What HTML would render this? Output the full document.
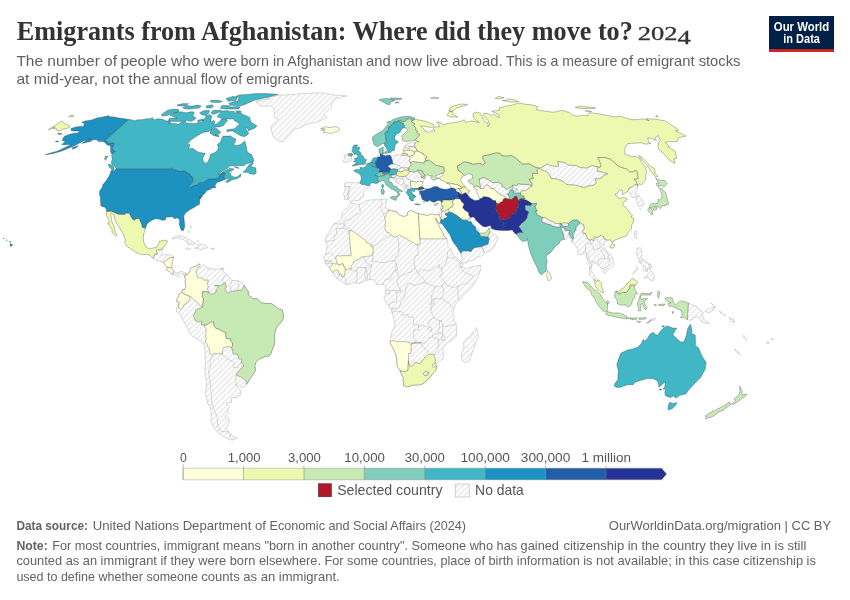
<!DOCTYPE html>
<html><head><meta charset="utf-8"><title>Emigrants from Afghanistan: Where did they move to?</title>
<style>
html,body{margin:0;padding:0;background:#fff;}
body{width:850px;height:600px;overflow:hidden;position:relative;font-family:"Liberation Sans",sans-serif;}
svg{position:absolute;left:0;top:0;will-change:transform;}
text{font-family:"Liberation Sans",sans-serif;}
.ttl{font-family:"Liberation Serif",serif;fill:#333;}
.sub{font-size:14.5px;fill:#606060;}
.ft{font-size:13px;fill:#636363;}
.lb{font-size:13px;fill:#555;text-anchor:middle;}
.lg{font-size:14.2px;fill:#555;}
</style></head><body>
<svg width="850" height="600" viewBox="0 0 850 600">
<defs><pattern id="nd" patternUnits="userSpaceOnUse" width="4" height="4" patternTransform="rotate(-45 2 2)"><path d="M-1,2 l6,0" stroke="#ccc" stroke-width="0.7"/></pattern></defs>
<rect width="850" height="600" fill="#fff"/>
<!-- header -->
<text class="ttl" x="16.8" y="40.1" font-size="28.3" font-weight="bold" textLength="616" lengthAdjust="spacingAndGlyphs">Emigrants from Afghanistan: Where did they move to?</text>
<text class="ttl" x="637.8" y="40.1" font-size="18.5" stroke="#333" stroke-width="0.3" textLength="53" lengthAdjust="spacingAndGlyphs">202<tspan dy="4.2">4</tspan></text>
<text class="sub" x="16.4" y="66.4" textLength="100.6" lengthAdjust="spacingAndGlyphs">The number of</text>
<text class="sub" x="120.4" y="66.4" textLength="116.7" lengthAdjust="spacingAndGlyphs">people who were</text>
<text class="sub" x="240.5" y="66.4" textLength="122.1" lengthAdjust="spacingAndGlyphs">born in Afghanistan</text>
<text class="sub" x="366.0" y="66.4" textLength="136.5" lengthAdjust="spacingAndGlyphs">and now live abroad.</text>
<text class="sub" x="505.9" y="66.4" textLength="111.4" lengthAdjust="spacingAndGlyphs">This is a measure</text>
<text class="sub" x="620.7" y="66.4" textLength="119.8" lengthAdjust="spacingAndGlyphs">of emigrant stocks</text>
<text class="sub" x="16.4" y="83.8" textLength="133.7" lengthAdjust="spacingAndGlyphs">at mid-year, not the</text>
<text class="sub" x="153.5" y="83.8" textLength="159.9" lengthAdjust="spacingAndGlyphs">annual flow of emigrants.</text>
<!-- logo -->
<rect x="769" y="16" width="65" height="36" fill="#002147"/>
<rect x="769" y="49.1" width="65" height="2.9" fill="#ce261e"/>
<text x="801.5" y="31.3" font-size="12.3" font-weight="bold" fill="#fff" text-anchor="middle" textLength="55.3" lengthAdjust="spacingAndGlyphs">Our World</text>
<text x="801.6" y="42.6" font-size="12.3" font-weight="bold" fill="#fff" text-anchor="middle" textLength="36.6" lengthAdjust="spacingAndGlyphs">in Data</text>
<g fill="url(#nd)" stroke="#aaa" stroke-width="0.45" stroke-linejoin="round"><path d="M350.7,202.8L359.2,204.6L365.7,200.9L370.0,199.9L380.7,199.6L385.0,198.8L387.2,199.6L386.3,203.5L385.3,207.4L387.8,209.5L390.9,210.6L397.1,211.9L398.1,214.2L403.3,216.6L407.6,215.3L407.7,212.1L410.6,210.3L414.5,212.1L418.5,213.7L427.5,215.5L431.8,214.0L434.7,214.8L438.9,214.5L440.9,219.2L440.1,223.4L438.3,222.6L435.7,218.1L435.3,218.9L438.1,223.6L439.5,227.0L443.3,233.5L443.9,236.2L446.8,238.8L447.8,241.9L447.9,246.6L451.0,249.2L453.6,255.7L457.6,258.3L462.1,263.0L462.7,266.2L465.6,269.0L471.2,267.0L480.5,265.1L480.9,268.8L478.6,275.3L476.2,280.5L473.8,284.4L469.5,289.9L467.9,291.0L461.5,297.5L459.2,300.6L456.1,303.2L454.9,306.6L453.8,308.4L452.8,313.1L454.3,317.1L453.7,321.0L456.2,323.6L456.4,328.8L456.7,334.0L455.9,336.6L453.5,339.2L447.6,342.6L445.2,345.5L442.6,347.9L443.6,353.6L443.3,358.6L437.5,362.2L436.5,363.8L437.0,366.4L435.7,370.6L432.9,373.4L429.6,377.9L425.3,381.8L422.5,383.9L419.6,384.9L412.6,385.2L407.0,387.0L403.6,385.7L403.6,381.5L402.9,379.7L403.8,378.4L401.8,375.3L400.2,370.8L397.4,366.6L396.2,355.9L393.8,349.7L390.3,343.2L390.4,337.9L392.1,331.4L395.1,324.9L393.8,319.1L391.8,312.1L391.1,309.2L389.1,306.4L386.1,302.7L383.8,298.3L385.4,294.9L385.6,290.4L386.1,288.1L385.4,286.0L383.1,284.2L379.6,284.7L377.3,285.0L375.0,281.6L373.6,279.7L371.3,279.5L366.3,280.3L361.2,282.6L358.9,283.7L356.1,282.9L354.3,282.6L346.2,284.7L342.1,281.8L338.7,279.7L337.1,278.2L334.8,276.9L333.2,274.0L332.0,271.4L329.6,268.0L328.0,266.2L325.3,263.8L325.1,261.2L323.5,257.8L325.9,254.4L326.5,249.2L327.2,245.3L326.2,242.7L325.0,241.4L325.6,238.2L327.5,234.3L330.1,230.9L331.3,227.5L334.1,223.9L334.8,223.4L337.9,222.3L341.1,219.5L342.1,216.6L341.9,214.0L343.1,211.4L344.9,209.3L346.9,208.5L348.7,207.4L350.0,204.3Z"/><path d="M476.4,327.5L478.7,336.6L476.1,341.9L473.2,349.7L469.7,360.1L466.6,362.2L464.8,362.7L462.2,360.9L461.1,354.9L463.8,348.4L463.6,341.9L467.2,337.9L470.7,336.1L473.3,331.4Z"/><path d="M423.3,373.4L425.7,371.1L428.5,372.1L428.6,374.2L425.8,376.0L424.1,375.3Z"/><path d="M480.6,188.5L479.2,178.9L484.0,177.6L490.1,180.7L492.7,182.8L498.6,182.3L501.7,184.1L502.3,186.7L503.4,186.9L507.4,189.8L509.0,188.2L511.7,186.7L513.0,186.1L511.8,188.2L514.9,188.2L518.2,189.8L515.9,191.3L513.5,191.1L512.8,189.5L510.2,190.0L510.0,191.6L509.3,192.9L507.3,193.9L509.4,197.0L509.5,199.1L506.6,198.7L504.0,196.2L500.6,194.7L496.3,191.8L494.3,189.0L490.3,188.2L489.5,186.1L486.2,184.9L484.9,186.1L483.8,188.5Z"/><path d="M512.3,185.1L517.6,185.4L518.0,183.6L521.4,184.3L528.8,184.6L531.9,186.1L529.1,188.2L525.6,190.5L522.1,190.8L520.4,192.1L520.5,193.1L516.4,193.1L513.4,192.9L513.5,191.1L515.9,191.3L518.2,189.8L514.9,188.2L511.8,188.2L513.0,186.1Z"/><path d="M541.4,221.0L542.6,217.4L545.4,217.6L548.7,220.0L552.4,221.5L554.9,223.1L557.7,223.5L559.7,223.4L560.5,227.3L558.0,227.3L553.4,226.5L550.8,224.7L549.2,224.7L543.7,222.6Z"/><path d="M561.8,224.9L563.3,222.6L567.2,223.1L568.4,223.6L568.9,226.1L564.1,226.5Z"/><path d="M564.4,239.5L563.0,233.0L561.0,228.8L561.6,227.3L564.5,228.3L564.8,230.2L570.5,230.7L568.7,233.5L570.0,236.2L572.4,238.8L572.7,240.6L572.2,242.2L570.5,238.0L567.4,236.9L566.6,239.0Z"/><path d="M634.2,236.2L634.8,230.7L636.9,230.9L636.8,234.9L636.0,238.8Z"/><path d="M540.1,168.2L542.8,166.7L546.5,164.2L553.6,166.2L558.6,166.2L557.7,161.2L565.7,162.9L568.0,165.2L576.1,165.4L580.3,167.5L586.6,168.0L592.1,165.4L597.3,166.7L597.5,169.2L597.7,171.3L602.2,172.0L607.8,173.8L606.8,174.6L603.8,175.1L602.3,177.4L599.0,178.9L594.9,178.9L596.3,182.3L594.0,185.1L588.1,185.9L584.7,187.7L575.1,185.1L566.5,184.6L563.7,181.5L561.4,180.7L556.7,178.9L551.3,178.4L549.0,174.3L549.2,173.8L546.0,171.3L541.2,169.7Z"/><path d="M627.6,191.8L629.1,187.9L632.6,186.7L634.9,184.1L637.5,185.6L637.8,185.9L637.6,189.2L636.1,191.8L635.3,193.6L638.2,195.5L635.5,197.5L632.5,197.5L631.0,196.2L630.6,193.6Z"/><path d="M635.5,197.5L638.2,195.5L642.3,199.6L644.1,203.5L643.0,205.4L639.2,206.7L637.4,203.5L636.5,200.2ZM639.5,209.0L640.9,208.8L640.6,209.5Z"/><path d="M343.7,162.2L346.7,162.2L351.1,160.7L351.6,157.9L351.7,155.9L349.4,155.7L348.0,155.0L349.5,153.5L347.5,153.2L347.0,155.4L344.1,155.7L344.4,157.7L345.9,158.4L344.7,159.7L343.0,160.9Z"/><path d="M359.7,183.0L356.2,182.8L351.4,182.5L346.8,182.3L344.1,183.8L344.8,186.9L346.3,186.4L349.6,186.8L350.4,187.7L348.9,189.2L348.6,192.6L347.5,192.9L348.5,196.5L347.6,199.1L349.7,200.2L350.5,201.7L351.4,202.2L354.0,200.4L358.8,200.4L362.0,198.1L363.9,195.2L362.9,193.1L365.4,190.0L368.1,188.2L370.4,186.7L370.0,185.6L367.1,185.4L365.0,184.6L362.2,184.6Z"/><path d="M344.8,186.9L345.1,190.5L343.2,194.9L344.7,196.0L344.6,198.3L344.1,199.6L347.6,199.1L348.5,196.5L347.5,192.9L348.6,192.6L348.9,189.2L350.4,187.7L349.6,186.8L346.3,186.4Z"/><path d="M409.3,146.6L407.3,144.7L407.1,143.5L410.6,142.5L415.3,142.8L414.7,144.2L415.1,147.6L411.3,146.4ZM404.7,145.7L406.4,144.9L406.6,145.9L404.8,146.6Z"/><path d="M391.1,156.4L395.4,155.0L398.2,154.2L399.5,155.2L401.4,155.1L407.6,155.2L409.1,156.4L410.4,159.4L409.1,160.4L410.2,162.4L411.3,164.9L408.9,167.5L409.2,168.7L405.7,167.7L403.3,168.2L401.2,167.5L398.8,165.4L397.2,165.2L395.8,164.7L393.3,163.9L392.6,162.4L392.2,160.2L391.5,158.7Z"/><path d="M387.7,165.4L389.2,165.2L391.9,163.8L393.3,163.9L395.8,164.7L397.2,165.2L398.8,165.4L401.2,167.5L399.8,169.0L397.6,169.5L393.7,168.7L391.3,169.2L388.6,167.0Z"/><path d="M391.7,177.4L395.0,177.6L395.5,175.9L397.3,175.1L399.5,176.6L402.1,176.6L405.0,176.1L405.2,176.1L408.0,179.4L410.1,179.7L410.6,181.0L410.5,183.6L410.5,185.9L412.0,188.5L411.8,188.5L407.9,189.5L407.4,191.1L406.1,192.6L404.7,191.1L404.6,187.9L404.1,186.9L402.3,185.6L400.1,184.1L396.9,182.8L395.1,181.0L394.3,178.9L393.0,178.2L392.3,179.4L391.6,178.7Z"/><path d="M410.0,171.5L410.1,171.3L414.1,172.0L417.3,170.6L418.3,171.8L421.0,174.8L421.6,177.8L424.8,178.2L423.0,182.1L419.6,181.2L416.6,182.3L410.6,181.0L410.1,179.7L408.0,179.4L405.2,176.1L406.6,175.9Z"/><path d="M440.4,209.8L441.6,205.8L443.0,205.9L443.1,207.4L441.8,209.3Z"/><path d="M438.9,214.5L440.4,209.8L441.8,209.3L442.0,210.8L441.5,211.6L441.7,214.0L441.6,215.3L440.9,219.2Z"/><path d="M440.9,219.2L441.6,215.3L441.7,214.0L441.5,211.6L442.0,210.8L444.3,211.9L448.4,209.0L449.6,212.1L445.0,214.0L447.5,216.6L446.5,217.9L444.7,218.1L443.6,220.0L441.0,219.6Z"/><path d="M466.7,220.2L469.0,217.6L469.5,217.9L471.1,221.8L469.3,221.8Z"/><path d="M461.0,253.4L461.6,252.6L463.1,250.8L466.8,251.0L469.7,251.0L470.5,251.9L473.0,248.7L474.7,247.6L481.5,246.6L484.4,252.7L482.5,255.5L476.5,257.6L474.8,259.6L468.7,261.2L466.5,262.8L463.1,263.3L462.3,261.5L461.4,257.6Z"/><path d="M484.4,252.7L481.5,246.6L488.0,244.0L489.2,238.8L487.9,236.9L488.9,233.5L489.3,233.3L490.0,231.2L490.6,232.2L492.8,234.1L495.3,234.6L498.3,237.5L495.9,242.9L494.6,246.6L491.9,249.2L488.7,251.8L486.6,251.8ZM489.0,228.2L489.6,227.3L490.0,229.1Z"/><path d="M477.5,231.5L477.3,229.4L478.0,228.1L479.0,228.8L479.3,231.2L478.4,232.0Z"/><path d="M455.6,189.0L458.5,188.5L459.8,189.8L461.4,192.9L462.8,194.4L461.8,194.7L460.4,193.1L458.8,192.6L456.3,191.6Z"/><path d="M255.7,101.8L261.0,106.1L271.7,106.1L273.5,108.1L274.6,114.4L273.8,117.6L278.5,119.7L271.8,125.3L270.8,127.6L271.7,131.7L273.2,136.8L276.0,139.2L280.7,141.6L283.3,141.8L286.4,138.0L290.2,134.5L293.4,129.8L299.2,128.0L307.2,124.2L316.2,122.4L323.6,119.3L327.3,117.6L323.9,114.4L328.1,110.2L331.1,107.1L332.1,103.2L334.8,98.8L346.7,95.9L341.2,95.5L333.1,94.8L325.5,93.2L318.9,92.7L309.2,93.2L299.2,93.9L287.6,94.7L280.3,95.1L272.2,96.4L266.4,98.1L270.1,98.8L257.9,101.1Z"/><path d="M152.9,258.3L153.6,256.5L154.5,254.2L157.3,254.2L156.5,251.3L156.7,249.7L160.8,249.7L161.1,249.2L163.0,247.9L162.8,251.8L160.9,254.7L162.2,255.2L163.6,254.7L167.5,254.7L170.9,254.9L173.6,257.0L171.7,257.6L169.4,258.1L167.0,259.6L165.2,261.5L163.8,262.3L162.7,261.7L158.8,261.2L155.5,259.9Z"/><path d="M172.8,274.8L173.1,272.7L173.9,271.1L174.7,272.7L177.0,273.2L180.1,271.6L182.6,271.4L185.7,273.5L184.4,277.4L183.6,274.5L180.9,273.0L178.8,274.5L179.6,276.6L177.3,276.9L175.1,274.8Z"/><path d="M171.9,239.0L174.2,236.9L177.8,235.9L182.2,236.2L185.4,237.7L188.6,239.3L191.8,240.9L195.5,243.5L192.5,244.2L187.5,244.5L188.9,242.4L186.1,241.4L182.9,239.5L179.0,238.2L176.9,237.5L175.1,238.8Z"/><path d="M194.6,248.2L197.7,248.7L201.0,250.0L204.5,248.4L208.2,247.6L205.9,245.8L202.7,244.2L198.6,244.2L197.2,244.8L198.6,246.9Z"/><path d="M185.7,248.4L188.7,247.9L190.4,249.2L187.4,249.7Z"/><path d="M210.9,248.2L214.5,248.4L213.5,249.5L210.8,249.2Z"/><path d="M188.2,230.4L189.2,230.9L188.7,232.8L187.7,232.2ZM189.8,226.0L191.4,227.0L190.7,228.3ZM196.9,241.4L198.6,240.6L198.2,241.6Z"/><path d="M221.5,268.3L223.9,268.0L223.5,269.8L221.7,269.8Z"/><path d="M185.7,273.5L187.0,275.3L189.9,271.6L190.3,268.5L192.0,267.5L196.2,266.2L199.4,263.8L200.2,265.4L198.7,267.5L199.3,268.3L202.6,266.2L203.7,264.3L206.5,267.0L207.5,268.8L212.1,268.5L215.5,269.6L221.3,268.3L223.5,271.4L225.7,274.0L227.9,275.3L230.1,278.4L232.3,280.5L236.9,280.5L239.2,281.0L242.6,283.1L244.4,285.2L246.0,288.4L248.3,291.5L248.2,294.9L251.7,297.5L252.9,298.8L257.5,298.8L260.9,302.7L266.7,303.5L271.3,303.5L274.8,305.8L278.3,308.7L282.2,309.8L283.5,315.0L283.1,319.7L279.8,323.6L277.6,326.2L275.4,330.1L274.5,335.3L274.8,341.9L273.5,347.1L272.3,349.7L271.0,353.6L268.9,356.2L265.5,356.2L262.3,357.8L259.0,359.1L255.9,362.2L254.9,365.3L255.5,370.6L252.8,374.5L251.1,377.6L248.9,380.5L246.9,384.3L244.9,386.7L241.3,387.3L236.9,384.9L236.0,384.7L236.1,386.2L239.4,388.8L241.1,391.4L240.2,395.3L237.4,397.4L231.1,397.9L231.7,402.6L226.1,403.1L229.3,407.0L228.0,409.6L228.2,413.4L224.9,416.0L229.0,419.1L230.1,421.1L228.0,424.9L225.9,427.4L228.7,431.9L229.6,432.9L232.5,436.2L237.7,437.9L235.7,439.1L232.3,440.1L229.1,439.4L224.0,436.7L218.5,433.2L214.5,428.7L210.9,422.4L211.3,418.0L211.2,412.1L210.0,405.7L207.9,404.4L207.0,399.2L205.3,393.3L206.3,388.8L206.7,382.3L205.3,374.5L204.8,369.3L205.5,362.7L205.1,357.5L205.1,351.0L203.8,343.9L200.9,341.3L196.0,338.5L191.9,335.8L189.1,332.2L186.9,327.5L184.1,322.3L181.5,317.1L179.5,313.1L176.7,311.8L176.3,308.2L178.5,305.1L179.4,302.2L176.8,301.9L177.0,298.8L178.8,296.2L179.1,294.1L181.9,292.5L182.6,289.7L184.9,289.4L185.9,286.0L185.1,281.8L185.5,278.7L184.4,277.4Z"/><path d="M572.2,242.2L572.7,240.6L572.4,238.8L573.3,238.8L573.2,233.5L575.7,229.9L576.2,226.8L579.6,223.9L579.9,222.3L581.8,223.9L583.5,224.4L584.4,228.6L582.5,231.5L583.1,233.5L585.6,233.5L586.4,236.2L587.7,238.5L589.8,240.1L591.7,239.3L593.5,240.9L593.9,237.7L594.5,236.9L597.7,237.5L600.5,235.4L603.9,236.7L604.0,238.8L607.4,240.1L605.0,241.9L603.5,244.0L603.3,246.6L605.5,249.2L607.0,251.8L610.3,254.2L612.3,257.0L613.6,262.3L613.7,265.9L609.4,269.0L608.3,269.3L605.1,273.2L604.2,273.7L603.0,269.0L600.9,268.5L599.2,265.6L597.5,264.3L594.4,263.3L594.2,261.2L592.2,261.2L592.1,265.4L591.0,268.8L591.3,271.9L593.2,272.7L594.6,277.1L596.5,278.2L598.4,280.0L597.8,281.0L596.2,281.3L593.8,279.2L591.1,276.6L589.4,275.3L589.2,272.7L589.8,270.1L589.3,264.9L587.4,259.6L585.9,254.4L584.8,252.3L581.0,254.9L578.2,254.4L577.8,249.2L575.4,245.3Z"/><path d="M626.0,284.4L628.2,283.1L629.0,284.7L627.5,285.7Z"/><path d="M650.2,320.7L650.6,319.7L655.7,318.1L654.0,320.2Z"/><path d="M688.4,303.0L692.9,305.1L696.3,306.1L699.1,309.8L702.9,311.8L703.4,313.7L701.6,313.9L701.9,315.8L704.5,319.7L707.7,322.3L709.5,323.1L706.4,323.3L702.0,322.3L701.4,321.0L700.0,319.1L696.8,316.5L693.2,317.8L691.9,320.2L687.3,319.9ZM704.8,311.1L708.8,309.2L713.6,307.1L714.1,309.2L709.8,312.4L706.3,312.1ZM711.0,303.0L714.8,306.1L715.8,308.4L714.5,306.6ZM719.5,310.5L722.1,313.9L720.7,313.1Z"/><path d="M723.4,313.9L725.6,315.5L724.4,315.8ZM728.9,317.1L732.1,319.7L730.5,319.4ZM730.8,320.7L734.0,322.8L732.5,322.3ZM732.9,318.4L734.8,321.8L733.6,320.7Z"/><path d="M743.7,335.3L744.8,336.6L744.4,338.7L743.5,337.4ZM746.7,338.5L746.7,340.5L746.1,339.5Z"/><path d="M734.7,348.9L737.6,351.0L740.1,354.4L738.0,353.6L735.4,350.7Z"/><path d="M766.7,341.9L769.6,342.1L768.9,343.7L766.5,343.4ZM770.7,339.2L773.3,338.7L772.1,340.3Z"/><path d="M637.3,247.9L640.9,247.9L642.1,253.6L641.2,258.6L644.6,259.9L647.5,263.3L644.9,262.3L641.6,259.9L639.2,260.2L638.1,257.6L636.6,253.6L637.3,250.5ZM643.8,278.2L647.0,276.9L647.9,274.0L651.3,270.9L654.2,275.3L654.0,279.2L652.3,281.3L649.2,279.5L646.2,276.3ZM648.0,263.6L650.9,264.3L651.7,267.5L650.0,266.7ZM643.0,265.4L645.6,266.2L646.6,271.9L644.6,270.6L643.1,268.8ZM632.8,274.3L637.4,266.7L638.1,268.8L633.4,273.7ZM638.6,261.2L641.4,261.7L641.2,264.1L640.0,263.6ZM647.4,268.0L648.2,269.6L647.0,271.4ZM648.8,266.7L650.1,268.0L649.9,270.1Z"/></g><path fill="none" stroke="#aaa" stroke-width="0.45" d="M225.7,274.0L223.2,277.9L222.2,280.8L223.8,282.6M231.9,280.5L231.6,283.1L229.9,285.7L231.4,291.0M239.2,281.0L238.0,283.7L239.1,287.0L237.7,290.2M203.8,343.9L205.5,341.9M212.1,355.7L210.1,360.1L210.6,366.6L208.6,370.6L209.1,377.1L210.3,383.1L210.9,390.1L211.6,396.6L212.0,403.1L214.5,410.9L217.1,417.3L217.4,422.4L218.0,427.4L220.9,431.2L228.7,431.9M229.0,432.9L231.3,438.4M222.3,354.1L226.3,358.3L233.5,361.9L234.5,363.0L232.8,367.2L237.5,367.7L241.2,363.0M231.8,348.9L229.5,346.5M236.1,375.0L235.6,379.7L236.0,384.7M359.2,204.6L359.8,208.8L360.9,212.1L355.8,215.3L352.4,217.9L344.2,221.3L344.1,223.9L334.1,223.9M344.1,223.9L344.0,228.3L336.6,228.3L336.5,234.9L334.2,236.2L334.1,240.6L325.0,241.4M344.1,224.9L352.7,230.9M344.0,228.3L348.9,230.9M382.0,199.9L381.5,204.8L379.9,208.0L383.3,212.4L384.5,217.4M370.7,244.5L376.6,245.6L380.5,241.6L390.5,234.9M397.3,236.2L398.5,241.4L398.9,249.2L398.8,252.3L394.6,260.4M417.9,245.3L418.2,255.2L415.7,255.7L413.8,262.3L415.1,267.5L417.9,273.5M451.0,249.2L447.7,251.8L446.9,258.9L446.1,263.0L441.7,267.7L442.3,274.0L439.3,275.8L441.7,277.9L444.7,282.1M417.9,273.5L420.9,269.3L427.5,271.1L432.3,269.6L437.7,265.6L439.5,264.3L439.4,268.3L441.7,267.7M446.9,258.9L450.3,257.8L454.8,258.3L458.9,262.3L460.6,263.6L462.1,263.0M460.6,263.6L459.3,267.5L462.1,267.5L462.7,266.2M462.1,267.5L461.7,270.1L466.9,273.7L471.5,275.3L473.8,275.3L467.1,283.1L462.5,284.2L460.2,285.7L457.9,286.0M444.7,282.1L446.4,284.7L451.0,286.8L454.5,287.3L457.9,286.0L458.0,296.2L459.2,300.6M444.7,282.1L441.8,285.2L443.0,288.4L444.2,292.0L441.9,295.7L441.9,298.8L450.1,304.0L450.6,305.8L453.8,308.4M441.8,285.2L439.5,286.3L434.9,286.5L434.5,289.9L431.7,294.6L431.7,299.8L433.8,298.8L441.9,298.8M434.5,286.8L430.3,284.7L426.6,282.9L421.7,277.1L417.9,273.5M426.6,282.9L421.1,283.1L415.3,285.5L408.4,282.9L406.3,285.7L406.1,287.0M415.1,267.5L411.7,271.4L406.9,273.2L399.1,276.6L396.9,280.5L397.3,284.2L400.8,290.4M383.1,284.2L386.0,279.2L390.0,279.0L392.2,274.0L396.0,267.0L396.0,263.8L394.6,260.4M396.0,263.8L397.9,270.1L395.6,270.6L399.1,276.6M394.6,260.4L388.7,261.5L384.1,262.8L379.5,262.3L372.6,260.9L371.7,265.6L369.9,272.7L369.7,279.5M373.1,252.1L372.6,260.9M371.7,265.6L369.0,264.3L365.8,262.3L364.0,257.0M350.9,269.0L352.7,270.9L357.1,271.1L357.1,267.5L363.5,267.5L365.6,267.5L371.7,265.6M357.1,271.1L357.1,277.9L356.1,282.9M365.6,267.5L364.6,275.3L366.3,280.3M367.2,280.0L367.2,272.7L365.6,267.5M346.2,284.7L346.2,281.0L344.0,276.3M337.1,278.2L339.8,274.0M334.8,270.3L333.0,272.7M325.9,254.4L330.5,252.9L335.6,257.8M325.3,263.8L329.2,263.3L332.1,263.3M325.1,260.9L329.2,260.2L331.9,261.2L329.2,261.7L325.1,262.0M386.1,290.2L389.5,290.4L394.2,290.4L400.8,290.4L400.8,291.7L396.9,292.5M386.1,293.6L389.5,293.6L389.5,290.4M394.2,290.4L396.9,292.5L396.7,297.5L396.9,301.4L393.5,302.4L390.5,302.7L389.1,306.4M406.1,287.0L404.3,297.5L400.8,301.4L399.9,306.6L396.7,309.0L393.4,308.2L391.1,309.2M393.4,308.2L391.6,311.3M391.8,312.1L394.3,311.6L401.7,311.6L402.6,315.2L408.1,314.4L408.1,317.1L413.6,317.1L413.5,324.9L418.5,324.6L418.5,327.5M418.5,327.5L421.5,325.4L425.8,326.5L428.5,328.8L429.8,331.2L431.6,331.2L431.7,328.0L428.6,327.0L429.2,320.5L434.0,317.6M434.0,317.6L431.1,311.8L430.8,304.8L431.7,299.8M430.8,304.8L433.8,302.4L433.8,298.8M430.7,307.7L434.5,304.8L433.8,302.4M456.2,323.6L450.6,325.7L445.5,326.2L442.8,326.5L441.6,321.0L439.0,320.7L434.0,317.6M441.6,321.0L439.3,321.2L439.6,326.5L438.3,331.7L439.4,332.7L442.3,334.0L445.3,337.9L443.8,340.8L441.6,338.7L442.5,333.8L442.8,326.5M439.4,332.7L432.4,335.3L432.8,336.9L429.4,337.7L424.8,343.2L421.0,342.6M432.8,336.9L438.4,339.8L438.4,345.8L437.5,349.7L434.1,354.6M443.8,340.8L443.2,340.0L438.4,339.8M418.5,327.5L418.4,330.1L413.8,330.1L413.6,338.5L416.7,342.1M421.0,342.6L422.9,347.1L426.2,349.7L429.8,354.1M435.4,360.1L435.1,364.0L435.2,366.1M391.5,177.6L395.0,177.6M396.9,182.8L396.1,178.4L402.8,178.9L403.6,179.2L403.5,182.8L402.3,185.1M402.8,178.9L402.5,176.6M403.5,182.8L406.0,184.6L405.4,185.1L404.1,186.9M406.0,184.6L408.7,186.1L410.5,185.9M406.6,186.1L407.0,189.0L407.9,189.5M408.7,186.1L406.8,186.9L405.4,185.1M407.0,189.0L404.6,187.9M579.9,222.3L581.8,223.9M587.7,238.5L589.8,240.1M591.7,239.3L589.8,240.1L590.9,243.2L590.0,243.2L587.6,243.7L585.5,244.8L585.5,247.9L585.4,251.8L588.2,254.2L587.6,257.0L590.5,262.3L591.5,265.6L589.9,269.6M590.9,243.2L592.9,245.3L593.6,250.2L595.3,249.5L597.4,248.4L599.7,248.4L601.8,250.8L602.2,253.6L604.4,256.0L604.5,258.6L609.0,258.1L609.0,256.3L607.2,252.9L605.9,251.8L601.8,247.6L599.2,245.3L600.7,243.2L598.6,241.4L595.7,239.3L593.9,237.7M604.5,258.6L601.0,258.6L598.1,260.7L597.9,263.3L599.2,265.6M609.0,258.1L609.6,263.8L606.5,267.5L604.2,267.7L603.0,269.0"/><g stroke="#333" stroke-width="0.32" stroke-linejoin="round"><path fill="#ffffd9" d="M388.7,209.8L390.9,210.6L397.1,211.9L398.1,214.2L403.3,216.6L407.6,215.3L407.7,212.1L410.6,210.3L414.5,212.1L418.5,213.7L419.9,238.8L420.1,244.0L417.8,244.0L417.9,245.3L399.5,235.0L397.3,236.2L395.5,237.2L390.5,234.9L389.3,232.8L386.6,232.2L385.7,230.2L384.5,227.8L385.6,227.0L385.1,224.9L385.5,222.3L385.2,219.5L384.5,217.4L386.0,216.1L386.2,213.4L388.7,211.6Z"/><path fill="#ffffd9" d="M418.5,213.7L427.5,215.5L431.8,214.0L434.7,214.8L438.9,214.5L440.9,219.2L440.1,223.4L438.3,222.6L435.7,218.1L435.3,218.9L438.1,223.6L439.5,227.0L443.3,233.5L443.9,236.2L446.8,238.8L419.9,238.8Z"/><path fill="#ffffd9" d="M337.2,263.8L335.6,257.8L337.3,255.5L340.7,256.0L342.3,255.7L351.0,255.7L351.0,253.1L348.9,230.9L352.7,230.9L366.2,241.1L366.2,242.2L370.7,244.5L371.0,246.6L373.0,246.3L373.1,252.1L371.7,255.7L366.7,256.3L364.0,257.0L361.9,256.8L358.9,259.1L356.6,260.4L353.7,261.7L353.4,263.6L351.4,265.4L350.9,269.0L349.3,268.8L347.7,269.6L345.4,269.6L344.5,267.5L343.6,265.9L342.9,263.8L340.6,264.3L339.0,265.1Z"/><path fill="#ffffd9" d="M329.1,267.5L329.6,268.0L332.0,271.4L333.0,272.7L334.8,270.3L337.8,270.1L338.9,271.9L339.1,274.5L339.8,274.0L341.7,274.3L341.9,276.9L344.0,276.3L344.7,274.0L345.4,269.6L344.5,267.5L343.6,265.9L342.9,263.8L340.6,264.3L339.0,265.1L337.2,263.8L335.3,264.1L332.1,263.3L332.1,265.6L329.8,266.2Z"/><path fill="#ffffd9" d="M390.3,341.2L393.1,340.5L395.3,341.6L405.3,341.6L412.1,343.2L416.7,342.1L421.0,342.6L419.2,343.2L415.8,343.2L411.2,343.9L410.9,353.6L408.6,353.6L408.4,360.9L408.0,370.3L405.7,371.6L403.9,371.6L402.2,371.1L400.2,370.8L397.4,366.6L396.2,355.9L393.8,349.7L390.3,343.2Z"/><path fill="#edf8b1" d="M400.2,370.8L402.2,371.1L403.9,371.6L405.7,371.6L408.0,370.3L408.4,360.9L409.7,366.1L412.0,366.1L414.3,364.0L415.1,362.2L418.8,363.5L420.8,363.0L421.6,360.6L423.7,359.6L424.2,357.8L426.6,355.7L429.8,354.1L434.1,354.6L435.4,360.1L434.9,363.8L432.9,364.0L432.3,366.1L433.3,367.4L435.2,366.1L437.0,366.4L435.7,370.6L432.9,373.4L429.6,377.9L425.3,381.8L422.5,383.9L419.6,384.9L412.6,385.2L407.0,387.0L403.6,385.7L403.6,381.5L402.9,379.7L403.8,378.4L401.8,375.3ZM423.3,373.4L424.1,375.3L425.8,376.0L428.6,374.2L428.5,372.1L425.7,371.1Z"/><path fill="#edf8b1" d="M414.8,119.1L418.6,120.0L423.8,120.8L433.4,124.2L434.3,125.8L432.7,127.1L429.3,127.3L423.8,126.2L420.3,126.0L423.6,128.7L424.8,131.0L429.0,132.4L430.4,131.0L434.7,130.8L433.0,128.0L436.0,126.7L439.5,126.9L438.5,124.2L436.7,121.7L441.5,123.1L443.2,125.3L446.0,123.7L453.1,122.6L455.7,122.6L460.8,121.1L464.3,119.7L465.7,122.4L471.6,120.8L476.4,122.0L479.2,122.4L475.1,119.7L473.1,116.5L473.5,113.3L475.1,112.2L479.4,112.7L482.1,116.5L484.9,122.0L488.1,123.1L487.9,126.9L489.6,124.2L488.4,120.8L483.0,115.4L483.9,113.3L488.3,113.7L491.2,115.4L493.6,114.4L499.3,117.6L498.8,114.8L491.8,111.2L499.6,110.2L499.3,108.1L505.7,106.1L512.2,105.1L518.8,102.8L524.6,104.1L533.5,105.1L538.4,107.1L535.9,109.5L541.0,110.6L543.9,111.0L553.3,112.2L559.2,111.2L559.4,110.8L562.8,110.4L569.8,112.7L573.3,115.4L578.7,116.5L579.5,115.2L587.7,115.8L588.1,113.7L589.0,112.7L598.5,113.7L607.4,115.4L613.4,116.7L621.2,116.5L628.6,118.7L630.9,119.7L637.3,119.5L643.0,118.9L649.3,120.8L646.0,118.7L654.9,119.1L665.2,120.9L678.7,129.8L677.4,130.8L675.3,130.5L686.0,136.1L682.2,136.8L678.4,138.0L677.4,141.6L670.3,141.8L665.1,142.1L669.2,146.4L667.9,146.9L674.7,150.8L675.9,154.2L676.5,158.7L673.9,158.9L674.8,163.7L668.9,159.9L663.8,153.7L658.7,149.3L658.0,146.4L658.5,142.8L660.3,140.4L658.2,135.7L654.8,138.0L656.7,140.4L647.9,137.5L648.5,142.1L651.0,143.5L645.3,144.2L641.9,142.8L634.1,143.3L627.8,143.5L624.6,148.8L624.8,154.2L630.4,156.2L631.8,156.7L635.2,156.2L639.5,158.2L641.6,162.4L644.6,166.2L646.8,170.5L646.1,173.8L645.3,180.2L641.9,184.6L638.9,183.8L637.8,185.9L637.5,185.6L636.2,181.5L634.1,178.9L638.1,178.7L637.1,172.5L636.1,170.5L632.7,172.0L629.6,172.0L626.7,169.2L618.9,166.7L610.4,159.2L604.2,157.4L597.7,157.9L599.0,159.7L601.1,165.4L600.0,167.5L597.3,166.7L592.1,165.4L586.6,168.0L580.3,167.5L576.1,165.4L568.0,165.2L565.7,162.9L557.7,161.2L558.6,166.2L553.6,166.2L546.5,164.2L542.8,166.7L540.1,168.2L539.1,168.2L535.0,167.2L529.5,163.9L522.6,164.2L515.4,157.9L511.7,155.7L506.2,156.2L501.5,155.7L499.9,153.2L496.0,153.0L490.0,154.7L482.9,156.2L482.9,158.9L485.4,162.9L482.6,164.7L479.6,163.4L473.0,164.4L467.4,162.4L463.9,161.9L460.3,164.7L457.4,165.7L458.1,170.3L461.0,172.0L463.9,175.3L464.3,175.6L461.3,177.4L460.9,180.2L462.8,184.1L465.5,187.0L461.4,187.2L457.7,184.9L454.5,184.3L450.1,183.3L446.9,183.0L442.3,180.5L440.0,179.4L439.0,178.2L441.5,176.4L443.5,173.8L441.4,173.6L444.3,171.5L443.8,167.2L439.5,166.2L435.3,165.2L434.0,163.7L431.0,161.7L429.4,160.2L426.2,160.9L425.0,158.2L427.2,157.4L422.9,154.2L423.2,153.7L417.3,151.0L415.7,147.8L415.1,147.6L414.7,144.2L415.3,142.8L416.9,141.6L419.3,141.8L415.7,140.4L414.4,140.3L416.3,138.7L417.7,136.8L419.9,134.7L416.7,132.6L417.2,131.0L415.5,129.8L415.8,128.2L413.3,125.5L414.5,123.7L411.5,122.0L411.9,120.7L414.8,119.1ZM401.4,155.1L402.0,153.7L403.8,153.0L407.4,154.0L407.6,155.2ZM447.3,115.4L450.4,116.9L457.9,117.1L453.2,114.4L452.5,111.6L449.3,111.6L447.5,114.4ZM448.9,111.0L453.0,111.2L456.6,108.1L466.7,105.1L467.6,104.3L461.4,104.1L454.8,105.5L450.0,107.5ZM502.0,100.3L505.4,100.7L507.5,99.0L514.6,99.9L518.3,101.6L511.7,102.2ZM495.3,98.5L498.3,96.4L504.1,97.6L500.0,98.8ZM575.2,107.5L580.6,106.1L588.4,107.1L595.6,107.7L593.8,108.5L581.4,108.5ZM585.3,111.2L591.5,111.6L587.3,110.4ZM430.6,98.1L434.2,97.1L439.0,98.0L435.1,98.5ZM638.4,155.4L642.2,157.4L647.1,162.4L650.6,166.2L654.6,168.7L655.3,173.8L658.2,176.4L655.1,176.4L651.0,171.3L646.6,164.9L642.9,161.2ZM655.4,116.3L656.2,115.4L658.4,116.7L657.2,116.9Z"/><path fill="#edf8b1" d="M61.8,120.9L63.6,122.4L65.2,124.2L69.2,125.5L69.6,127.3L66.6,128.5L62.7,129.2L59.5,131.2L56.9,130.5L56.6,128.9L52.9,128.5L55.2,126.9L48.3,129.8ZM70.8,115.4L74.1,115.8L71.8,116.7L68.6,116.7Z"/><path fill="#c7e9b4" d="M539.1,168.2L535.0,167.2L529.5,163.9L522.6,164.2L515.4,157.9L511.7,155.7L506.2,156.2L501.5,155.7L499.9,153.2L496.0,153.0L490.0,154.7L482.9,156.2L482.9,158.9L485.4,162.9L482.6,164.7L479.6,163.4L473.0,164.4L467.4,162.4L463.9,161.9L460.3,164.7L457.4,165.7L458.1,170.3L461.0,172.0L463.9,175.3L464.3,175.6L467.6,173.8L471.8,174.3L472.8,178.2L469.1,180.0L467.9,180.7L470.0,183.6L473.4,184.6L474.0,187.3L476.8,185.9L480.6,188.5L479.2,178.9L484.0,177.6L490.1,180.7L492.7,182.8L498.6,182.3L501.7,184.1L502.3,186.7L503.4,186.9L507.4,189.8L509.0,188.2L511.7,186.7L513.0,186.1L512.3,185.1L517.6,185.4L518.0,183.6L521.4,184.3L528.8,184.6L531.9,186.1L532.2,183.6L529.4,179.4L533.7,178.4L532.9,177.4L532.7,173.3L537.9,173.6L537.0,170.3Z"/><path fill="#ffffd9" d="M474.0,187.3L475.3,189.2L477.5,189.8L476.1,191.8L477.6,193.6L479.5,198.8L481.4,198.6L483.6,196.8L486.4,197.0L489.8,197.8L493.0,200.4L495.6,200.7L496.2,203.3L498.7,204.1L500.1,202.5L502.9,201.5L503.1,199.4L504.8,198.3L506.6,198.7L504.0,196.2L500.6,194.7L496.3,191.8L494.3,189.0L490.3,188.2L489.5,186.1L486.2,184.9L484.9,186.1L483.8,188.5L480.6,188.5L476.8,185.9Z"/><path fill="#7fcdbb" d="M509.5,199.1L509.4,197.0L507.3,193.9L509.3,192.9L510.0,191.6L510.2,190.0L512.8,189.5L513.5,191.1L513.4,192.9L516.4,193.1L520.5,193.1L521.4,195.5L523.9,196.0L524.8,198.6L524.7,199.0L521.6,198.6L519.7,199.6L517.7,200.2L517.2,197.3L516.4,196.2L514.2,196.8L514.4,198.1L512.9,198.1L512.8,199.4L510.0,199.6Z"/><path fill="#b0172b" d="M496.2,203.3L498.7,204.1L500.1,202.5L502.9,201.5L503.1,199.4L504.8,198.3L506.6,198.7L509.5,199.1L510.0,199.6L512.8,199.4L512.9,198.1L514.4,198.1L514.2,196.8L516.4,196.2L517.2,197.3L517.7,200.2L519.7,199.6L521.6,198.6L524.7,199.0L524.0,199.6L520.9,199.9L518.6,200.9L517.5,202.0L519.0,204.3L518.3,206.1L518.6,207.2L516.2,207.4L516.5,209.5L517.3,209.3L515.9,212.9L513.1,213.4L510.9,214.5L510.0,215.5L510.3,218.1L505.8,219.2L502.1,219.5L498.3,218.3L499.9,215.8L499.4,214.2L497.6,214.0L496.2,210.1L495.7,208.2L496.3,206.1Z"/><path fill="#253494" d="M458.8,192.6L461.8,194.7L465.2,192.6L466.7,193.6L468.2,196.0L471.0,198.6L474.6,200.4L479.7,199.9L479.5,198.8L481.4,198.6L483.6,196.8L486.4,197.0L489.8,197.8L493.0,200.4L495.6,200.7L496.2,203.3L496.3,206.1L495.7,208.2L496.2,210.1L497.6,214.0L499.4,214.2L499.9,215.8L498.3,218.3L500.8,221.5L503.2,222.6L503.6,225.2L504.9,226.2L502.0,227.8L501.6,230.4L495.7,229.9L491.8,228.8L490.3,225.5L485.8,227.0L483.0,226.5L480.5,224.4L476.8,221.0L476.3,220.8L474.3,217.4L471.8,216.8L471.1,218.0L469.6,216.6L468.7,215.3L468.6,212.7L464.5,210.1L462.6,207.4L463.9,204.6L463.2,203.0L461.8,202.2L459.9,199.1L458.3,197.0L457.3,193.4Z"/><path fill="#253494" d="M498.3,218.3L502.1,219.5L505.8,219.2L510.3,218.1L510.0,215.5L510.9,214.5L513.1,213.4L515.9,212.9L517.3,209.3L516.5,209.5L516.2,207.4L518.6,207.2L518.3,206.1L519.0,204.3L517.5,202.0L518.6,200.9L520.9,199.9L524.0,199.6L527.0,200.2L532.2,203.5L530.8,205.6L525.2,205.6L525.4,210.1L526.8,210.6L528.9,211.9L527.6,215.3L527.0,217.9L525.3,220.5L521.6,223.4L519.7,225.7L518.8,226.5L520.7,229.1L523.0,232.5L518.0,232.8L516.9,234.3L515.0,233.5L513.2,231.5L512.5,229.9L508.1,230.4L503.6,230.4L501.6,230.4L502.0,227.8L504.9,226.2L503.6,225.2L503.2,222.6L500.8,221.5Z"/><path fill="#7fcdbb" d="M516.9,234.3L517.8,236.2L519.1,238.0L522.2,241.4L526.2,240.9L527.0,238.2L527.8,241.4L528.6,246.6L531.0,254.4L533.8,260.9L536.5,266.2L539.2,272.7L541.6,275.0L543.1,273.0L545.3,271.9L546.8,269.3L546.3,265.4L547.2,262.0L546.2,256.3L548.1,254.4L550.9,252.6L553.2,249.2L556.2,245.8L559.3,243.5L560.1,240.9L562.2,239.8L564.4,239.5L563.0,233.0L561.0,228.8L561.6,227.3L564.5,228.3L564.8,230.2L570.5,230.7L568.7,233.5L570.0,236.2L572.4,238.8L573.3,238.8L573.2,233.5L575.7,229.9L576.2,226.8L579.6,223.9L579.9,222.3L576.8,219.5L575.2,220.2L573.3,219.7L570.2,221.8L568.4,223.6L568.9,226.1L564.1,226.5L561.8,224.9L561.2,223.1L559.7,223.4L560.5,227.3L558.0,227.3L553.4,226.5L550.8,224.7L549.2,224.7L543.7,222.6L541.4,221.0L542.6,217.4L537.7,215.0L537.2,214.5L535.5,211.4L537.5,211.1L536.3,209.3L535.2,206.7L537.0,203.5L532.7,203.5L532.2,203.5L530.8,205.6L525.2,205.6L525.4,210.1L526.8,210.6L528.9,211.9L527.6,215.3L527.0,217.9L525.3,220.5L521.6,223.4L519.7,225.7L518.8,226.5L520.7,229.1L523.0,232.5L518.0,232.8Z"/><path fill="#ffffd9" d="M546.6,274.8L547.6,270.6L550.0,274.0L551.8,277.9L550.5,280.0L548.0,280.5L547.0,277.9Z"/><path fill="#edf8b1" d="M637.5,185.6L636.2,181.5L634.1,178.9L638.1,178.7L637.1,172.5L636.1,170.5L632.7,172.0L629.6,172.0L626.7,169.2L618.9,166.7L610.4,159.2L604.2,157.4L597.7,157.9L599.0,159.7L601.1,165.4L600.0,167.5L597.3,166.7L597.5,169.2L597.7,171.3L602.2,172.0L607.8,173.8L606.8,174.6L603.8,175.1L602.3,177.4L599.0,178.9L594.9,178.9L596.3,182.3L594.0,185.1L588.1,185.9L584.7,187.7L575.1,185.1L566.5,184.6L563.7,181.5L561.4,180.7L556.7,178.9L551.3,178.4L549.0,174.3L549.2,173.8L546.0,171.3L541.2,169.7L540.1,168.2L539.1,168.2L537.0,170.3L537.9,173.6L532.7,173.3L532.9,177.4L533.7,178.4L529.4,179.4L532.2,183.6L531.9,186.1L529.1,188.2L525.6,190.5L522.1,190.8L520.4,192.1L520.5,193.1L521.4,195.5L523.9,196.0L524.8,198.6L524.7,199.0L524.0,199.6L527.0,200.2L532.2,203.5L532.7,203.5L537.0,203.5L535.2,206.7L536.3,209.3L537.5,211.1L535.5,211.4L537.2,214.5L537.7,215.0L542.6,217.4L545.4,217.6L548.7,220.0L552.4,221.5L554.9,223.1L557.7,223.5L559.7,223.4L561.2,223.1L561.8,224.9L563.3,222.6L567.2,223.1L568.4,223.6L570.2,221.8L573.3,219.7L575.2,220.2L576.8,219.5L579.9,222.3L581.8,223.9L583.5,224.4L584.4,228.6L582.5,231.5L583.1,233.5L585.6,233.5L586.4,236.2L587.7,238.5L589.8,240.1L591.7,239.3L593.5,240.9L593.9,237.7L594.5,236.9L597.7,237.5L600.5,235.4L603.9,236.7L604.0,238.8L607.4,240.1L610.8,240.1L612.4,243.2L613.2,240.9L615.9,239.8L619.5,238.2L621.2,237.7L625.9,236.2L628.5,232.2L631.5,228.8L631.4,225.7L633.8,221.0L633.4,218.1L630.7,216.8L632.5,215.5L629.2,211.9L626.0,207.4L622.5,204.8L624.1,201.7L627.5,199.6L626.7,198.3L622.9,197.5L619.6,198.8L615.7,194.9L614.8,194.4L617.2,193.6L619.5,189.8L622.3,190.5L622.3,194.4L623.2,194.7L625.2,192.6L627.6,191.8L629.1,187.9L632.6,186.7L634.9,184.1ZM610.0,246.1L612.5,243.7L615.0,244.8L613.3,248.2L610.5,247.9Z"/><path fill="#c7e9b4" d="M649.1,207.4L651.0,203.8L654.1,203.5L657.9,203.3L658.0,199.1L659.6,200.2L661.4,198.6L662.0,195.7L660.9,191.8L659.7,188.7L661.7,188.2L663.4,190.5L665.9,193.1L666.6,196.2L667.3,199.6L668.6,203.0L667.8,204.8L666.7,204.1L665.6,205.9L664.3,205.9L661.7,205.9L661.8,206.9L660.4,208.8L657.9,206.7L656.2,205.6L653.4,206.7L651.6,207.7ZM649.2,207.7L651.3,208.5L652.6,210.6L652.7,214.2L651.8,215.3L649.7,212.7L647.6,210.1L648.5,208.5ZM652.8,209.0L654.5,206.7L657.0,206.9L657.0,209.0L655.0,210.6ZM656.8,185.4L656.3,183.3L658.6,183.3L655.6,177.9L659.8,180.2L665.0,180.7L667.4,183.3L664.6,186.7L660.2,185.4L658.5,185.4L659.3,187.9Z"/><path fill="#ffffd9" d="M320.8,128.7L324.7,126.7L328.8,127.6L332.4,127.1L335.9,126.4L338.4,127.6L339.7,129.8L337.0,131.5L330.6,133.6L326.3,132.6L323.2,132.6L324.8,131.0L321.4,130.1L325.1,128.9Z"/><path fill="#41b6c4" d="M352.1,166.1L356.5,165.4L359.5,164.7L364.1,164.3L366.3,163.3L364.9,162.4L366.8,159.7L364.1,158.7L363.7,157.2L363.1,155.9L361.2,154.7L360.4,152.2L359.3,151.3L357.8,151.3L358.7,150.3L360.1,147.6L356.9,147.1L356.0,147.4L357.7,144.9L354.2,144.9L352.6,146.9L352.7,149.3L351.7,150.5L353.0,152.5L353.9,153.7L354.0,154.5L356.8,154.0L357.7,156.2L357.4,157.9L354.7,157.9L354.7,159.2L355.4,160.4L353.2,161.4L355.6,162.2L357.6,162.7L356.6,163.2L355.0,163.7ZM348.0,155.0L349.5,153.5L351.8,153.2L352.9,155.0L351.7,155.9L349.4,155.7Z"/><path fill="#41b6c4" d="M359.7,183.0L361.0,180.0L361.2,177.4L361.0,175.9L359.0,173.6L354.4,171.5L353.8,170.3L357.4,169.2L360.3,169.7L359.9,167.0L361.1,167.7L363.9,167.5L366.5,165.9L366.7,163.9L368.5,163.4L369.9,164.2L371.9,166.3L373.1,165.8L375.1,167.3L376.4,167.6L380.0,168.7L379.0,172.3L377.7,172.8L376.0,174.8L376.0,175.9L377.4,175.3L377.9,176.6L377.3,178.7L378.0,181.0L379.1,182.0L376.5,183.8L373.9,183.0L371.8,182.8L369.8,184.1L370.0,185.6L367.1,185.4L365.0,184.6L362.2,184.6ZM381.5,185.6L383.2,184.1L383.5,186.7L382.9,188.2L381.6,186.9Z"/><path fill="#41b6c4" d="M368.5,163.4L370.2,162.7L372.0,162.7L373.4,162.6L375.2,163.7L374.8,164.2L375.9,164.9L376.3,165.4L375.7,165.9L375.1,167.3L373.1,165.8L371.9,166.3L369.9,164.2Z"/><path fill="#c7e9b4" d="M375.1,167.3L375.7,165.9L376.5,166.7L376.4,167.6Z"/><path fill="#41b6c4" d="M370.2,162.7L371.4,161.2L372.7,158.7L374.2,157.7L377.0,157.7L377.6,158.2L377.2,159.7L376.7,161.2L375.3,161.7L375.8,162.7L375.2,163.7L373.4,162.6L372.0,162.7Z"/><path fill="#225ea8" d="M377.6,158.2L377.1,156.9L379.1,156.9L380.2,156.4L380.1,154.0L382.6,154.2L382.8,155.2L384.8,155.2L384.9,156.2L387.7,155.2L389.6,155.0L391.1,156.4L391.5,158.7L392.2,160.2L392.6,162.4L393.3,163.9L391.9,163.8L389.2,165.2L387.7,165.4L388.6,167.0L391.3,169.2L389.8,170.5L389.5,172.3L389.9,172.5L388.3,172.3L384.9,172.5L383.0,172.4L381.0,171.9L379.0,172.3L380.0,168.7L376.4,167.6L376.5,166.7L375.7,165.9L376.3,165.4L375.9,164.9L375.2,163.7L375.8,162.7L375.3,161.7L376.7,161.2L377.2,159.7Z"/><path fill="#7fcdbb" d="M380.1,154.0L379.0,152.2L378.9,149.8L379.8,148.6L383.4,147.1L383.0,149.1L384.2,150.3L383.0,151.5L382.1,153.0L382.6,154.2ZM384.6,152.2L386.4,151.0L387.6,152.0L386.6,153.7L385.0,153.2ZM382.3,152.5L384.2,152.7L384.1,153.7L382.7,153.5Z"/><path fill="#7fcdbb" d="M376.0,175.9L376.0,174.8L377.7,172.8L379.0,172.3L381.0,171.9L383.0,172.4L382.9,173.6L384.8,174.1L384.8,175.0L384.2,175.7L382.6,175.3L382.0,176.8L380.7,175.6L379.7,176.5L377.9,176.6L377.4,175.3Z"/><path fill="#41b6c4" d="M383.0,172.4L384.9,172.5L388.3,172.3L389.9,172.5L389.5,172.3L389.8,170.5L391.3,169.2L393.7,168.7L397.6,169.5L398.2,171.3L396.8,172.3L396.4,174.1L393.4,175.2L391.5,175.1L388.9,174.6L388.2,173.8L386.0,174.3L384.8,174.1L382.9,173.6Z"/><path fill="#7fcdbb" d="M379.1,182.0L378.0,181.0L377.3,178.7L377.9,176.6L379.7,176.5L380.7,175.6L382.0,176.8L382.6,175.3L384.2,175.7L384.8,175.0L384.8,174.1L386.0,174.3L388.2,173.8L388.9,174.6L391.5,175.1L391.5,176.9L391.7,177.4L388.9,178.2L389.2,181.0L391.9,182.8L393.3,185.6L397.2,186.9L397.2,188.2L399.4,189.2L402.8,191.6L401.8,192.1L399.5,190.5L398.8,192.6L400.0,194.4L398.8,196.0L397.2,197.2L397.5,195.2L398.1,194.4L396.9,191.8L395.1,191.1L393.8,190.0L390.9,188.7L389.2,187.2L386.8,185.6L385.5,184.1L384.7,181.8L383.9,181.2L382.0,180.5L380.5,181.5ZM390.1,197.5L392.0,196.5L396.9,196.2L396.1,200.4L394.3,199.9L390.6,198.3ZM380.8,189.5L382.9,188.7L384.3,190.5L384.0,193.9L382.7,194.4L381.4,193.9L381.3,191.1Z"/><path fill="#7fcdbb" d="M376.6,146.4L373.9,144.5L372.7,140.6L372.4,137.1L374.3,135.4L378.6,133.1L382.0,131.0L384.4,128.7L385.9,126.4L388.2,124.0L389.7,122.4L392.7,119.7L395.8,118.4L401.2,116.9L405.7,116.3L410.1,116.5L414.6,117.8L413.4,119.3L414.8,119.1L411.9,120.7L410.8,119.1L409.7,118.5L406.7,119.3L406.5,120.4L405.1,121.6L402.2,121.5L398.6,120.4L398.0,120.7L397.2,122.2L394.0,122.0L393.9,123.3L391.5,124.6L390.1,127.1L388.6,127.3L388.5,129.6L387.6,130.8L388.4,131.7L386.0,132.2L385.0,133.1L385.6,137.5L385.9,139.2L386.5,139.2L386.0,141.6L385.3,142.3L384.7,144.0L383.0,143.3L381.2,144.5L378.9,146.1ZM379.4,99.4L383.6,98.8L386.4,98.5L389.4,99.0L394.9,100.7L391.5,101.6L389.3,104.9L386.0,103.8L383.5,102.2L379.5,100.3ZM389.9,98.0L397.7,98.0L402.2,98.5L399.7,99.8L392.4,99.6ZM394.9,103.2L399.2,102.6L396.7,101.8ZM387.9,121.7L390.3,121.1L388.9,122.6L386.4,123.1Z"/><path fill="#41b6c4" d="M384.7,144.0L384.4,145.4L385.9,147.4L387.3,150.3L388.2,152.7L390.9,152.5L391.5,150.8L394.0,150.8L394.7,148.8L394.9,146.6L395.2,144.7L397.7,142.8L398.3,141.6L395.1,139.9L394.7,137.5L395.3,135.9L396.9,134.0L399.9,132.6L401.2,130.3L402.1,128.2L405.4,128.0L404.4,126.9L404.5,125.3L403.6,124.2L403.5,123.3L400.2,122.0L398.0,120.7L397.2,122.2L394.0,122.0L393.9,123.3L391.5,124.6L390.1,127.1L388.6,127.3L388.5,129.6L387.6,130.8L388.4,131.7L386.0,132.2L385.0,133.1L385.6,137.5L385.9,139.2L386.5,139.2L386.0,141.6L385.3,142.3Z"/><path fill="#c7e9b4" d="M405.4,128.0L407.8,129.8L406.7,131.5L403.6,134.0L401.8,135.9L402.5,139.2L402.5,140.4L405.7,141.8L409.4,141.1L414.4,140.3L416.3,138.7L417.7,136.8L419.9,134.7L416.7,132.6L417.2,131.0L415.5,129.8L415.8,128.2L413.3,125.5L414.5,123.7L411.5,122.0L411.9,120.7L410.8,119.1L409.7,118.5L406.7,119.3L406.5,120.4L405.1,121.6L402.2,121.5L398.6,120.4L398.0,120.7L400.2,122.0L403.5,123.3L403.6,124.2L404.5,125.3L404.4,126.9Z"/><path fill="#ffffd9" d="M403.6,151.0L403.3,149.3L404.2,147.6L406.0,147.1L407.6,148.8L409.4,148.3L409.3,146.6L411.3,146.4L415.1,147.6L415.7,147.8L417.3,151.0L414.4,152.0L410.9,150.3L405.3,150.3Z"/><path fill="#ffffd9" d="M403.8,153.0L403.6,151.0L405.3,150.3L410.9,150.3L414.4,152.0L414.5,153.5L412.9,155.7L409.1,156.4L407.6,155.2L407.4,154.0Z"/><path fill="#ffffd9" d="M397.6,169.5L399.8,169.0L401.2,167.5L403.3,168.2L405.7,167.7L409.2,168.7L408.2,170.3L404.9,170.0L401.7,171.8L398.2,171.3Z"/><path fill="#edf8b1" d="M396.4,174.1L396.8,172.3L398.2,171.3L401.7,171.8L404.9,170.0L408.2,170.3L410.0,171.5L406.6,175.9L405.0,176.1L402.1,176.6L399.5,176.6L397.3,175.1Z"/><path fill="#ffffd9" d="M391.5,175.1L393.4,175.2L396.4,174.1L397.3,175.1L395.5,175.9L395.0,177.6L391.7,177.4L391.5,176.9Z"/><path fill="#ffffd9" d="M410.6,181.0L416.6,182.3L419.6,181.2L423.0,182.1L421.9,184.6L422.4,186.7L419.1,187.4L418.6,188.5L416.3,188.5L412.0,188.5L410.5,185.9L410.5,183.6Z"/><path fill="#41b6c4" d="M406.1,192.6L407.4,191.1L407.9,189.5L411.8,188.5L416.3,188.5L418.6,188.5L419.1,187.4L418.5,190.0L415.1,189.5L414.5,191.8L412.3,191.1L411.5,191.8L413.0,194.4L414.9,196.5L415.1,197.8L412.9,197.3L413.4,198.8L413.4,200.9L411.9,200.9L410.3,200.2L408.8,197.5L410.0,196.2L408.5,196.0L407.7,194.7L406.5,193.1ZM414.5,204.1L416.7,203.8L420.6,204.3L417.4,205.1ZM423.6,201.5L424.4,201.2L424.1,202.5ZM413.3,194.7L415.3,195.7L416.1,197.0L413.7,195.2ZM418.9,193.6L420.0,193.6L419.9,194.4Z"/><path fill="#c7e9b4" d="M408.2,170.3L409.2,168.7L408.9,167.5L411.3,164.9L410.2,162.4L412.8,161.4L417.9,162.2L424.0,162.9L424.4,160.9L426.2,160.9L429.4,160.2L431.0,161.7L434.0,163.7L435.3,165.2L439.5,166.2L443.8,167.2L444.3,171.5L441.4,173.6L438.5,174.6L435.3,175.9L436.3,177.9L439.0,178.2L436.8,178.9L433.6,180.5L432.9,180.0L430.5,177.9L432.5,176.1L429.1,175.9L427.9,174.8L426.3,175.1L424.8,178.2L421.6,177.8L422.2,177.6L425.0,175.3L422.7,172.5L422.7,171.3L419.5,170.3L417.3,170.6L414.1,172.0L410.1,171.3L410.0,171.5Z"/><path fill="#c7e9b4" d="M417.3,170.6L419.5,170.3L422.7,171.3L422.7,172.5L425.0,175.3L422.2,177.6L421.6,177.8L421.0,174.8L418.3,171.8Z"/><path fill="#ffffd9" d="M410.2,162.4L409.1,160.4L410.4,159.4L409.1,156.4L412.9,155.7L414.5,153.5L414.4,152.0L417.3,151.0L423.2,153.7L422.9,154.2L427.2,157.4L425.0,158.2L426.2,160.9L424.4,160.9L424.0,162.9L417.9,162.2L412.8,161.4Z"/><path fill="#225ea8" d="M419.2,191.8L420.4,193.6L421.1,196.0L422.3,199.6L424.3,200.4L427.3,201.7L429.5,200.2L432.7,202.0L434.5,202.2L437.9,200.4L440.6,200.7L441.4,202.2L441.2,202.5L442.9,201.7L442.4,200.2L445.4,200.0L449.8,200.2L454.6,199.4L455.6,198.8L459.9,199.1L458.3,197.0L457.3,193.4L458.8,192.6L456.3,191.6L455.6,189.0L453.1,187.9L451.0,187.9L447.4,189.2L443.8,189.2L440.5,188.5L437.0,186.4L433.5,186.7L430.0,188.5L426.9,189.0L424.9,188.7L426.0,190.0L422.9,190.8L420.1,190.8ZM418.6,190.3L419.1,187.4L422.4,186.7L424.7,188.7L421.7,189.5Z"/><path fill="#edf8b1" d="M433.7,204.8L435.1,203.8L438.5,203.0L437.4,204.8L435.3,205.9Z"/><path fill="#edf8b1" d="M441.2,202.5L442.9,201.7L442.4,200.2L445.4,200.0L449.8,200.2L454.6,199.4L452.7,201.2L453.3,204.8L452.8,206.4L448.4,209.0L444.3,211.9L442.0,210.8L441.8,209.3L443.1,207.4L443.0,205.9L441.6,205.8Z"/><path fill="#ffffd9" d="M448.4,209.0L452.8,206.4L453.3,204.8L452.7,201.2L454.6,199.4L455.6,198.8L459.9,199.1L461.8,202.2L463.2,203.0L463.9,204.6L462.6,207.4L464.5,210.1L468.6,212.7L468.7,215.3L469.6,216.6L471.1,218.0L469.5,217.9L469.0,217.6L466.7,220.2L462.7,220.0L456.1,215.0L452.3,212.9L449.6,212.1Z"/><path fill="#1d91c0" d="M441.0,219.6L443.6,220.0L444.7,218.1L446.5,217.9L447.5,216.6L445.0,214.0L449.6,212.1L452.3,212.9L456.1,215.0L462.7,220.0L466.7,220.2L469.3,221.8L471.1,221.8L472.2,223.9L474.2,225.7L475.7,227.0L475.9,229.4L477.5,231.5L478.4,232.0L479.4,233.0L480.6,236.2L487.9,236.9L489.2,238.8L488.0,244.0L481.5,246.6L474.7,247.6L473.0,248.7L470.5,251.9L469.7,251.0L466.8,251.0L463.1,250.8L461.6,252.6L461.0,253.4L459.0,250.5L456.5,246.6L454.0,243.2L452.0,240.1L450.1,234.9L447.2,230.9L445.2,228.3L442.6,224.4L440.5,223.1Z"/><path fill="#c7e9b4" d="M479.4,233.0L481.5,233.0L484.8,233.0L486.2,231.5L487.7,229.9L489.0,228.2L490.0,231.2L489.3,233.3L488.9,233.5L487.9,236.9L480.6,236.2Z"/><path fill="#ffffd9" d="M446.9,183.0L450.1,183.3L454.5,184.3L457.7,184.9L461.4,187.2L461.5,189.0L458.5,188.5L455.6,189.0L453.1,187.9L451.0,187.9L451.0,186.7L450.2,184.9Z"/><path fill="#edf8b1" d="M461.5,189.0L461.4,187.2L465.5,187.0L468.3,190.3L470.1,190.8L468.5,191.8L468.0,193.9L468.2,196.0L466.7,193.6L465.2,192.6L461.8,194.7L462.8,194.4L461.4,192.9L459.8,189.8L458.5,188.5ZM458.8,192.6L460.4,193.1L461.8,194.7L459.4,193.6Z"/><path fill="#1d91c0" d="M111.3,170.3L114.4,170.8L116.1,168.7L171.7,168.7L172.3,167.7L172.6,169.5L175.7,169.7L178.1,171.0L181.8,171.3L184.6,170.5L190.1,174.1L190.3,175.1L191.9,176.1L191.8,176.9L193.4,178.2L192.5,182.5L191.2,184.1L188.9,186.4L189.8,187.4L192.8,186.1L198.2,184.3L198.4,182.8L199.5,182.5L203.5,182.5L204.5,181.5L207.7,179.4L208.8,178.9L215.8,178.9L217.8,177.9L219.0,176.6L220.4,174.6L222.6,172.8L224.6,172.9L225.2,173.6L224.0,177.1L225.0,178.7L224.9,179.4L222.5,180.5L219.9,181.5L217.5,182.3L216.0,183.8L214.9,185.9L216.1,187.4L213.4,187.9L209.6,188.7L207.6,189.5L210.9,189.2L206.7,190.5L205.6,192.6L203.5,194.7L202.7,193.1L202.8,195.7L200.1,199.1L200.2,195.7L199.7,199.9L199.6,204.3L197.0,205.6L193.5,207.7L190.2,209.5L185.7,212.7L183.8,216.1L184.3,221.8L184.8,226.2L183.7,230.2L181.6,230.7L180.4,228.3L179.2,223.9L179.7,220.5L178.0,217.9L176.7,218.1L174.5,218.7L172.3,216.8L168.9,217.1L166.3,217.1L165.2,220.0L161.8,220.2L160.0,219.2L155.7,218.7L153.5,219.5L149.1,222.1L146.9,224.2L145.5,228.6L142.0,227.3L141.7,224.4L140.2,221.3L139.0,218.4L136.0,218.7L134.4,220.5L132.0,218.7L129.2,213.3L125.4,213.3L125.1,214.4L118.8,214.4L111.6,211.4L106.5,211.4L106.6,210.1L105.2,207.4L100.9,206.0L100.4,200.7L100.5,197.5L99.4,194.4L99.7,190.8L102.3,187.2L102.9,184.6L105.6,181.5L109.2,175.9ZM128.8,119.5L104.7,140.9L107.7,141.3L108.0,144.0L111.0,142.8L113.8,142.8L114.0,144.5L112.3,148.3L113.2,149.8L115.4,151.3L113.1,153.7L111.9,154.2L111.2,153.2L110.5,151.7L110.6,149.8L110.7,147.4L110.2,145.7L108.5,145.2L106.7,144.7L105.1,142.5L103.0,141.6L98.4,141.6L96.7,139.7L93.1,139.7L90.5,141.6L86.9,142.3L81.9,143.5L86.4,139.9L90.5,138.7L87.2,139.2L81.3,142.1L75.6,145.2L67.3,148.8L61.0,151.3L54.1,153.2L49.2,154.2L45.2,154.7L50.5,153.0L57.1,151.3L64.9,147.6L71.2,144.5L68.4,144.5L65.3,144.7L61.6,144.7L65.3,141.6L62.1,140.4L63.2,138.0L64.3,136.4L68.9,134.5L74.4,133.3L77.1,133.3L80.0,131.0L76.5,131.0L73.0,131.0L71.0,130.5L71.0,128.5L75.6,127.1L81.2,126.2L83.7,127.1L83.6,125.1L84.6,123.7L81.9,122.3L85.0,121.1L91.6,120.0L96.9,118.0L102.7,116.9L108.3,115.7L110.4,116.7L114.1,116.9L116.5,117.6L120.6,118.2L124.9,118.7ZM72.4,147.6L78.3,145.7L76.8,147.6L72.5,149.3ZM58.1,133.3L62.3,133.8L59.6,134.5L57.5,134.0ZM56.1,141.1L58.8,141.1L57.3,142.1L55.4,141.8ZM10.4,243.5L12.4,244.5L12.2,245.6L10.5,246.6L10.0,245.0ZM9.3,241.4L10.8,241.6L10.0,242.4ZM6.3,239.8L7.3,240.3L6.6,240.6ZM3.3,238.2L4.2,238.2L3.8,239.0Z"/><path fill="#41b6c4" d="M128.8,119.5L131.9,119.7L133.9,120.8L138.5,119.7L141.9,119.7L146.5,118.7L149.8,118.7L152.7,117.6L152.6,119.1L155.2,119.7L157.3,118.7L161.8,119.1L165.7,120.8L170.3,121.3L170.7,122.6L168.3,123.3L174.9,123.5L178.5,124.2L181.5,122.0L185.4,121.3L186.4,123.1L190.2,123.5L196.2,123.5L198.3,122.0L201.3,122.4L203.4,120.8L202.7,119.7L204.5,118.7L206.2,115.8L210.0,114.4L212.1,116.5L211.1,118.7L211.0,119.7L211.0,122.0L213.8,120.4L215.2,122.0L213.5,124.2L216.1,124.2L219.9,121.3L221.5,119.1L226.3,119.3L227.6,120.4L225.3,123.1L223.8,125.3L219.3,126.9L216.7,126.9L214.5,127.6L211.6,129.2L208.1,131.7L204.2,132.2L201.6,133.3L197.3,135.7L193.8,138.0L189.9,141.1L187.3,144.2L190.2,144.7L188.5,148.8L192.5,148.3L195.3,150.0L196.5,151.3L199.6,152.5L205.3,153.2L202.7,158.2L203.2,160.7L205.2,163.2L207.5,162.4L208.7,159.9L210.2,156.2L210.1,154.5L214.9,152.5L217.7,150.0L218.4,147.6L217.3,144.5L220.5,142.1L221.3,139.2L223.1,136.1L227.6,136.1L230.9,135.9L233.0,137.8L235.9,139.2L235.5,141.6L233.5,144.5L236.3,145.7L240.6,144.5L244.9,140.9L245.5,144.0L246.7,147.6L246.6,150.0L248.3,153.0L251.6,154.5L252.6,156.9L253.9,159.9L253.5,161.7L250.6,162.7L246.7,163.7L243.6,165.7L238.6,165.7L233.6,165.7L230.6,165.7L227.8,168.0L224.0,170.0L219.8,173.3L218.0,174.3L220.6,173.8L224.9,170.5L229.6,168.5L233.6,168.7L233.8,169.2L231.7,171.3L228.7,171.3L230.9,173.8L231.2,175.9L234.0,176.9L237.1,176.9L241.1,173.8L240.7,176.4L237.6,178.4L232.0,180.0L227.0,182.8L225.9,181.5L227.2,180.0L230.5,178.2L227.3,178.4L224.9,179.4L225.0,178.7L224.0,177.1L225.2,173.6L224.6,172.9L222.6,172.8L220.4,174.6L219.0,176.6L217.8,177.9L215.8,178.9L208.8,178.9L207.7,179.4L204.5,181.5L203.5,182.5L199.5,182.5L198.4,182.8L198.2,184.3L192.8,186.1L189.8,187.4L188.9,186.4L191.2,184.1L192.5,182.5L193.4,178.2L191.8,176.9L191.9,176.1L190.3,175.1L190.1,174.1L184.6,170.5L181.8,171.3L178.1,171.0L175.7,169.7L172.6,169.5L172.3,167.7L171.7,168.7L116.1,168.7L115.8,168.0L114.4,166.2L111.8,164.2L111.2,162.4L112.1,159.9L112.1,157.4L111.4,155.4L113.1,153.7L115.4,151.3L113.2,149.8L112.3,148.3L114.0,144.5L113.8,142.8L111.0,142.8L108.0,144.0L107.7,141.3L104.7,140.9ZM242.9,172.3L245.3,170.0L248.9,164.9L252.8,162.2L253.3,163.7L250.5,166.2L252.3,166.7L255.9,168.0L256.0,171.3L256.3,172.5L254.7,174.6L252.2,174.1L249.6,174.1L248.6,172.5ZM113.9,170.3L111.4,169.2L109.5,167.5L108.1,164.4L109.9,164.2L112.8,165.7L114.1,168.2ZM105.6,155.9L107.9,156.2L105.4,160.4L104.6,158.7ZM234.6,166.4L238.9,167.7L239.1,168.5L235.0,167.5ZM244.3,136.8L240.4,135.7L236.3,133.3L232.3,131.0L226.8,131.5L226.9,129.8L234.6,128.7L236.8,126.4L239.4,124.2L237.6,122.4L234.5,120.8L233.5,118.7L230.7,119.1L223.5,118.7L219.9,118.0L217.0,116.5L218.9,114.4L220.9,111.2L227.8,110.6L229.3,111.6L234.4,111.2L234.3,113.3L238.8,112.7L241.5,113.3L243.6,114.8L246.8,116.1L249.9,117.6L250.2,119.7L250.6,122.0L254.4,124.2L257.0,125.8L255.0,128.0L251.6,129.4L248.2,131.0L247.7,128.7L245.7,127.6L246.2,129.8L248.8,133.3L246.9,135.2ZM194.4,119.7L191.3,121.3L186.9,120.6L180.2,121.5L172.6,121.5L168.3,120.8L169.3,118.2L177.0,118.0L171.7,116.1L170.0,115.4L175.1,112.7L181.4,111.8L186.0,112.7L190.9,111.8L193.3,111.8L194.3,113.1L192.9,116.1L196.0,118.0ZM161.5,114.4L161.9,116.1L167.3,115.6L171.6,113.7L179.2,111.6L178.6,109.5L173.6,109.1L167.6,110.2ZM229.7,105.3L235.6,105.5L241.5,105.7L246.0,104.1L251.2,101.8L254.2,100.3L261.4,98.8L269.1,96.8L278.3,94.4L273.2,93.9L265.5,93.5L257.3,93.5L246.6,94.4L238.7,95.1L235.3,96.8L239.9,97.6L237.8,99.4L239.6,100.3L233.5,101.8L229.0,103.2ZM238.6,108.9L232.2,109.1L226.0,109.1L220.3,108.5L221.9,105.5L228.0,105.5L231.2,106.9L237.7,106.5L240.4,106.9ZM236.0,100.3L228.3,101.3L226.0,98.5L233.1,96.3L237.1,97.6ZM199.0,108.1L190.0,109.1L185.3,109.1L182.4,107.7L186.6,105.7L192.2,106.1L198.1,105.1L201.4,106.1ZM213.2,114.4L210.8,112.7L213.2,110.2L218.7,110.2L221.5,110.6L218.0,112.7ZM205.8,115.4L201.5,114.8L199.6,112.7L204.1,110.6L209.6,110.6L208.6,113.3ZM220.3,133.3L213.5,135.7L209.8,133.1L211.1,129.8L215.9,128.0L218.1,129.8L220.4,131.7ZM211.4,108.1L206.8,108.1L206.0,106.1L212.2,104.7L213.6,106.1ZM185.1,105.7L178.5,106.1L176.8,105.1L183.6,103.6L188.6,103.8ZM219.3,102.6L210.9,102.2L210.5,100.3L217.8,100.3L222.4,101.3ZM203.4,120.8L198.7,121.5L197.1,120.4L202.4,119.1ZM241.5,112.2L235.7,112.5L236.1,111.0L240.3,110.8ZM219.0,136.8L215.0,136.1L215.0,134.7L218.4,135.0Z"/><path fill="#edf8b1" d="M106.5,211.4L111.6,211.4L118.8,214.4L125.1,214.4L125.4,213.3L129.2,213.3L132.0,218.7L134.4,220.5L136.0,218.7L139.0,218.4L140.2,221.3L141.7,224.4L142.0,227.3L145.5,228.6L143.9,233.5L143.2,238.0L143.7,241.9L145.4,245.8L146.1,247.1L148.9,248.7L152.3,248.2L155.1,247.6L157.1,246.6L158.6,244.0L159.4,241.1L165.9,240.1L167.4,240.9L166.7,242.7L165.2,245.3L163.0,247.9L161.1,249.2L160.8,249.7L156.7,249.7L156.5,251.3L157.3,254.2L154.5,254.2L153.6,256.5L152.9,258.3L150.3,255.7L147.0,254.2L141.3,254.7L135.9,252.1L131.7,249.5L126.5,246.1L124.8,242.9L125.3,240.1L123.8,235.4L121.2,230.9L118.8,227.0L116.4,223.1L114.4,218.4L114.2,215.3L111.2,213.2L110.7,214.0L111.2,217.9L112.4,223.1L114.3,227.0L115.4,232.2L117.1,234.9L115.7,236.4L112.0,232.2L112.1,229.6L110.0,226.5L107.4,223.6L109.3,223.1L108.6,219.2L106.3,215.3Z"/><path fill="#ffffd9" d="M163.8,262.3L165.2,261.5L167.0,259.6L169.4,258.1L171.7,257.6L173.6,257.0L172.9,259.6L172.1,263.8L171.6,267.7L169.1,267.5L167.0,267.2L165.3,265.4L163.3,262.5Z"/><path fill="#ffffd9" d="M167.0,267.2L169.1,267.5L171.6,267.7L173.0,270.1L173.9,271.1L173.1,272.7L172.8,274.8L171.4,274.0L169.1,271.1L166.6,270.1Z"/><path fill="#41b6c4" d="M621.0,353.1L627.5,349.9L631.7,349.2L637.7,347.3L641.1,343.7L643.4,339.2L644.7,341.3L647.1,338.7L650.1,334.0L653.3,332.2L655.7,334.8L658.0,335.1L660.1,331.4L662.9,328.5L667.2,325.7L672.6,328.0L676.8,328.0L674.5,331.4L672.8,335.1L675.8,337.4L680.7,341.9L683.7,341.9L686.4,335.3L687.6,328.8L690.3,324.1L691.9,329.6L691.9,333.8L695.2,335.1L695.5,341.9L695.4,345.5L698.7,348.1L700.8,353.6L702.8,357.5L706.2,362.2L705.2,369.3L701.0,377.1L694.7,383.6L688.6,390.1L685.8,394.0L679.9,395.3L675.9,398.2L673.5,396.1L670.2,397.4L665.7,395.9L664.7,392.7L665.8,389.3L662.9,389.1L664.7,387.0L665.3,382.3L665.8,381.3L659.3,387.0L659.0,387.3L658.4,384.1L657.8,381.5L655.8,380.0L652.4,378.4L647.5,378.6L640.2,380.5L635.1,382.3L633.1,384.7L627.6,384.7L623.8,386.0L619.9,387.5L615.7,387.3L614.1,385.7L614.9,383.6L617.8,379.7L618.0,374.5L618.3,370.6L617.6,367.9L616.7,364.6L618.3,360.1L619.5,356.2L620.0,354.9ZM669.8,402.3L673.0,403.4L677.1,402.6L675.3,405.7L672.1,408.8L669.3,409.8L667.9,409.6L668.1,407.0L669.0,403.6ZM659.8,389.1L661.9,389.3L661.1,390.1L659.1,390.1ZM662.1,325.9L664.4,325.7L663.6,327.0L662.2,327.0Z"/><path fill="#c7e9b4" d="M739.7,386.0L740.6,387.5L741.2,390.1L742.5,391.4L741.7,394.0L742.5,394.8L746.2,394.0L747.0,394.6L743.9,397.4L740.8,398.7L739.6,400.5L735.5,403.1L732.6,404.7L732.2,403.9L734.4,401.8L735.3,400.5L734.1,399.2L734.0,398.7L736.8,397.2L739.1,394.0L739.9,391.4L739.6,388.0ZM729.5,401.8L729.2,403.1L731.5,403.6L729.3,405.7L725.2,408.3L723.3,410.1L723.7,410.3L718.7,411.9L714.3,415.7L710.3,417.5L707.8,417.5L705.4,416.5L706.0,415.2L711.2,412.1L713.7,410.9L718.9,408.3L723.0,406.2L726.5,403.9ZM705.8,418.0L707.0,418.3L705.3,419.3Z"/><path fill="#ffffd9" d="M185.7,273.5L187.0,275.3L189.9,271.6L190.3,268.5L192.0,267.5L196.2,266.2L199.4,263.8L200.2,265.4L197.8,267.2L195.9,271.4L196.9,275.6L197.9,277.9L202.3,277.9L203.8,280.3L208.2,280.0L207.4,284.4L208.5,287.0L207.3,288.9L209.3,293.0L206.8,291.7L202.6,291.7L202.4,294.6L202.1,296.7L203.5,298.8L202.5,307.1L200.6,306.1L197.6,302.7L194.1,300.1L191.8,297.5L189.9,296.4L187.1,295.4L184.8,294.4L181.9,292.5L182.6,289.7L184.9,289.4L185.9,286.0L185.1,281.8L185.5,278.7L184.4,277.4Z"/><path fill="#ffffd9" d="M181.9,292.5L184.8,294.4L187.1,295.4L189.9,296.4L189.2,300.1L187.2,302.7L183.8,304.8L182.7,307.9L180.5,309.2L178.4,307.7L178.5,305.1L179.4,302.2L176.8,301.9L177.0,298.8L178.8,296.2L179.1,294.1Z"/><path fill="#ffffd9" d="M203.9,324.8L206.5,324.9L210.9,322.0L213.6,321.8L213.8,324.9L215.8,328.3L219.3,329.3L222.9,331.4L225.7,332.2L225.9,335.3L226.4,338.7L230.5,338.7L230.9,341.3L232.9,343.2L232.4,345.8L231.7,347.9L229.5,346.5L223.7,347.3L222.6,349.7L222.3,354.1L219.1,353.6L216.9,353.9L213.9,353.1L212.1,355.7L210.1,353.6L209.1,348.4L207.4,345.8L206.7,343.2L205.5,341.9L206.3,338.7L205.3,335.3L206.1,332.7L206.0,328.8Z"/><path fill="#c7e9b4" d="M244.4,285.2L246.0,288.4L248.3,291.5L248.2,294.9L251.7,297.5L252.9,298.8L257.5,298.8L260.9,302.7L266.7,303.5L271.3,303.5L274.8,305.8L278.3,308.7L282.2,309.8L283.5,315.0L283.1,319.7L279.8,323.6L277.6,326.2L275.4,330.1L274.5,335.3L274.8,341.9L273.5,347.1L272.3,349.7L271.0,353.6L268.9,356.2L265.5,356.2L262.3,357.8L259.0,359.1L255.9,362.2L254.9,365.3L255.5,370.6L252.8,374.5L251.1,377.6L248.9,380.5L246.9,384.3L246.1,381.0L242.3,377.9L240.4,376.8L236.1,375.0L239.0,370.6L241.0,368.7L243.4,366.6L243.4,364.6L241.2,363.0L241.5,359.1L238.7,358.6L237.9,354.4L233.1,353.9L232.2,348.9L231.7,347.9L232.4,345.8L232.9,343.2L230.9,341.3L230.5,338.7L226.4,338.7L225.9,335.3L225.7,332.2L222.9,331.4L219.3,329.3L215.8,328.3L213.8,324.9L213.6,321.8L210.9,322.0L206.5,324.9L203.9,324.8L201.6,324.9L201.4,321.0L197.8,322.3L196.4,320.7L195.4,320.7L193.4,315.8L194.0,314.2L195.3,312.1L195.7,309.8L202.3,307.4L202.5,307.1L203.5,298.8L202.1,296.7L202.4,294.6L202.6,291.7L206.8,291.7L209.3,293.0L210.7,294.2L212.5,294.1L216.0,292.3L216.0,289.7L218.4,286.3L214.7,285.5L218.9,285.7L223.0,284.4L223.8,282.6L225.4,283.1L225.8,284.7L226.4,287.0L225.2,289.7L225.9,291.5L228.0,293.0L231.4,291.0L233.3,291.2L234.7,291.0L237.7,290.2L241.6,290.4Z"/><path fill="#edf8b1" d="M593.8,279.2L594.6,281.8L595.2,285.7L596.9,288.6L599.0,290.4L602.1,292.8L603.7,292.5L602.9,289.7L601.7,287.0L601.6,283.7L598.9,280.0L598.4,280.0L597.8,281.0L596.2,281.3ZM616.1,291.0L619.8,292.3L620.2,289.7L623.9,287.8L626.0,284.4L628.2,283.1L630.4,280.5L632.1,278.2L634.3,279.5L637.9,282.3L635.3,285.2L634.1,285.2L630.0,285.2L629.6,288.4L628.1,290.4L626.3,292.5L622.8,292.3L621.2,293.6L618.2,293.8L616.4,292.3Z"/><path fill="#c7e9b4" d="M616.1,291.0L616.4,292.3L618.2,293.8L621.2,293.6L622.8,292.3L626.3,292.5L628.1,290.4L629.6,288.4L630.0,285.2L634.1,285.2L635.3,285.2L634.2,287.0L635.5,290.4L637.8,293.6L635.1,294.1L634.4,298.3L632.7,299.3L632.0,302.7L630.7,305.6L627.4,306.9L625.0,304.8L621.1,305.3L617.4,303.7L617.1,300.1L614.8,297.5L614.8,294.9L614.7,292.3ZM582.8,281.6L587.9,282.6L590.9,286.3L594.6,289.7L597.5,291.7L600.9,294.9L602.8,298.8L604.4,300.9L607.7,304.0L607.2,311.3L605.8,311.3L604.0,311.3L600.7,308.4L598.9,306.1L596.0,301.9L594.7,298.5L591.7,294.9L591.0,291.7L587.0,288.4L583.4,283.7ZM605.5,313.9L607.4,311.6L613.1,313.1L618.4,312.9L622.7,314.2L626.7,316.3L626.5,318.9L620.8,318.1L614.0,316.5L608.1,315.5ZM627.8,317.3L629.3,318.1L628.1,319.1L626.8,318.1ZM630.0,317.8L631.6,317.8L631.1,319.4L629.9,319.1ZM631.9,318.1L636.9,317.8L636.8,319.1L632.2,319.7ZM638.7,318.1L646.1,317.6L645.6,319.1L639.1,319.4ZM646.8,323.1L650.6,319.7L650.2,320.7L649.1,322.8ZM636.7,321.0L640.8,321.5L638.8,323.1ZM638.3,310.8L640.6,310.8L640.9,304.0L642.3,303.2L643.3,306.6L645.5,310.0L647.2,307.9L645.3,304.8L644.0,301.4L647.7,298.8L643.6,298.5L641.3,299.6L640.6,296.2L642.4,294.9L647.1,295.1L650.5,295.1L652.1,292.3L649.3,293.6L644.7,293.6L642.0,292.8L640.1,294.4L639.7,296.7L639.0,298.8L638.5,301.4L637.3,303.2L637.6,305.3L638.7,307.9ZM657.4,293.6L658.5,290.7L660.2,292.3L659.3,294.9L658.6,298.3L657.9,296.2ZM658.4,304.5L664.9,304.0L664.1,305.6L658.8,305.6ZM653.8,304.5L656.6,304.8L655.3,306.1ZM665.5,298.3L669.0,297.2L672.6,298.3L673.5,302.7L675.7,304.8L679.3,301.4L682.7,300.9L688.4,303.0L687.3,319.9L684.1,317.3L680.6,318.1L682.7,314.4L681.1,310.5L675.5,307.9L671.0,306.1L669.4,306.6L667.7,303.7L671.2,302.7L667.7,301.4L665.5,299.8ZM607.8,300.4L609.4,302.7L607.7,304.0L606.7,301.4ZM672.3,311.8L673.7,311.6L672.8,313.9Z"/></g>
<!-- legend -->
<g>
<rect x="183.1" y="468.2" width="60.4" height="11.6" fill="#ffffd9"/>
<rect x="243.5" y="468.2" width="60.5" height="11.6" fill="#edf8b1"/>
<rect x="304" y="468.2" width="60.4" height="11.6" fill="#c7e9b4"/>
<rect x="364.4" y="468.2" width="60.4" height="11.6" fill="#7fcdbb"/>
<rect x="424.8" y="468.2" width="60.4" height="11.6" fill="#41b6c4"/>
<rect x="485.2" y="468.2" width="60.4" height="11.6" fill="#1d91c0"/>
<rect x="545.6" y="468.2" width="60.4" height="11.6" fill="#225ea8"/>
<path d="M606,468.2H661.7L666.6,474L661.7,479.8H606Z" fill="#253494"/>
<path d="M183.1,468.2H661.7L666.6,474L661.7,479.8H183.1Z" fill="none" stroke="#8c8c8c" stroke-width="0.4"/>
<path d="M183.1,464v15.8M243.5,465.5v14.3M304,465.5v14.3M364.4,465.5v14.3M424.8,465.5v14.3M485.2,465.5v14.3M545.6,465.5v14.3M606,465.5v14.3" stroke="#7a7a7a" stroke-width="0.5" fill="none"/>
<text class="lb" x="183.5" y="461.6" textLength="6.8" lengthAdjust="spacingAndGlyphs">0</text>
<text class="lb" x="244.2" y="461.6" textLength="32.7" lengthAdjust="spacingAndGlyphs">1,000</text>
<text class="lb" x="304.4" y="461.6" textLength="33" lengthAdjust="spacingAndGlyphs">3,000</text>
<text class="lb" x="364.6" y="461.6" textLength="40.6" lengthAdjust="spacingAndGlyphs">10,000</text>
<text class="lb" x="424.8" y="461.6" textLength="40.2" lengthAdjust="spacingAndGlyphs">30,000</text>
<text class="lb" x="485.2" y="461.6" textLength="49.5" lengthAdjust="spacingAndGlyphs">100,000</text>
<text class="lb" x="545.6" y="461.6" textLength="49.5" lengthAdjust="spacingAndGlyphs">300,000</text>
<text class="lb" x="606.2" y="461.6" textLength="49.5" lengthAdjust="spacingAndGlyphs">1 million</text>
<rect x="318.2" y="483.5" width="13.5" height="13.4" fill="#b0172b" stroke="#333" stroke-width="0.3"/>
<text class="lg" x="337.2" y="495.1" textLength="105.3" lengthAdjust="spacingAndGlyphs">Selected country</text>
<rect x="455.2" y="484" width="14" height="13" fill="url(#nd)" stroke="#b4b4b4" stroke-width="0.6"/>
<text class="lg" x="475.1" y="495.1" textLength="48.7" lengthAdjust="spacingAndGlyphs">No data</text>
</g>
<!-- footer -->
<text class="ft" x="16.4" y="529.8" textLength="71.6" lengthAdjust="spacingAndGlyphs" font-weight="bold">Data source:</text>
<text class="ft" x="92.8" y="529.8" textLength="173.1" lengthAdjust="spacingAndGlyphs">United Nations Department of</text>
<text class="ft" x="269.5" y="529.8" textLength="196.5" lengthAdjust="spacingAndGlyphs">Economic and Social Affairs (2024)</text>
<text class="ft" x="608.8" y="529.8" textLength="222.4" lengthAdjust="spacingAndGlyphs">OurWorldinData.org/migration | CC BY</text>
<text class="ft" x="16.4" y="549.5" textLength="31.4" lengthAdjust="spacingAndGlyphs" font-weight="bold">Note:</text>
<text class="ft" x="52.2" y="549.5" textLength="208.6" lengthAdjust="spacingAndGlyphs">For most countries, immigrant means</text>
<text class="ft" x="264.4" y="549.5" textLength="294.5" lengthAdjust="spacingAndGlyphs">"born in another country". Someone who has gained</text>
<text class="ft" x="563.4" y="549.5" textLength="242.9" lengthAdjust="spacingAndGlyphs">citizenship in the country they live in is still</text>
<text class="ft" x="16.4" y="565.1" textLength="304.6" lengthAdjust="spacingAndGlyphs">counted as an immigrant if they were born elsewhere.</text>
<text class="ft" x="324.4" y="565.1" textLength="255.4" lengthAdjust="spacingAndGlyphs">For some countries, place of birth information</text>
<text class="ft" x="583.2" y="565.1" textLength="232.7" lengthAdjust="spacingAndGlyphs">is not available; in this case citizenship is</text>
<text class="ft" x="16.4" y="580.7" textLength="181.5" lengthAdjust="spacingAndGlyphs">used to define whether someone</text>
<text class="ft" x="201.3" y="580.7" textLength="138.4" lengthAdjust="spacingAndGlyphs">counts as an immigrant.</text>
</svg>
</body></html>
